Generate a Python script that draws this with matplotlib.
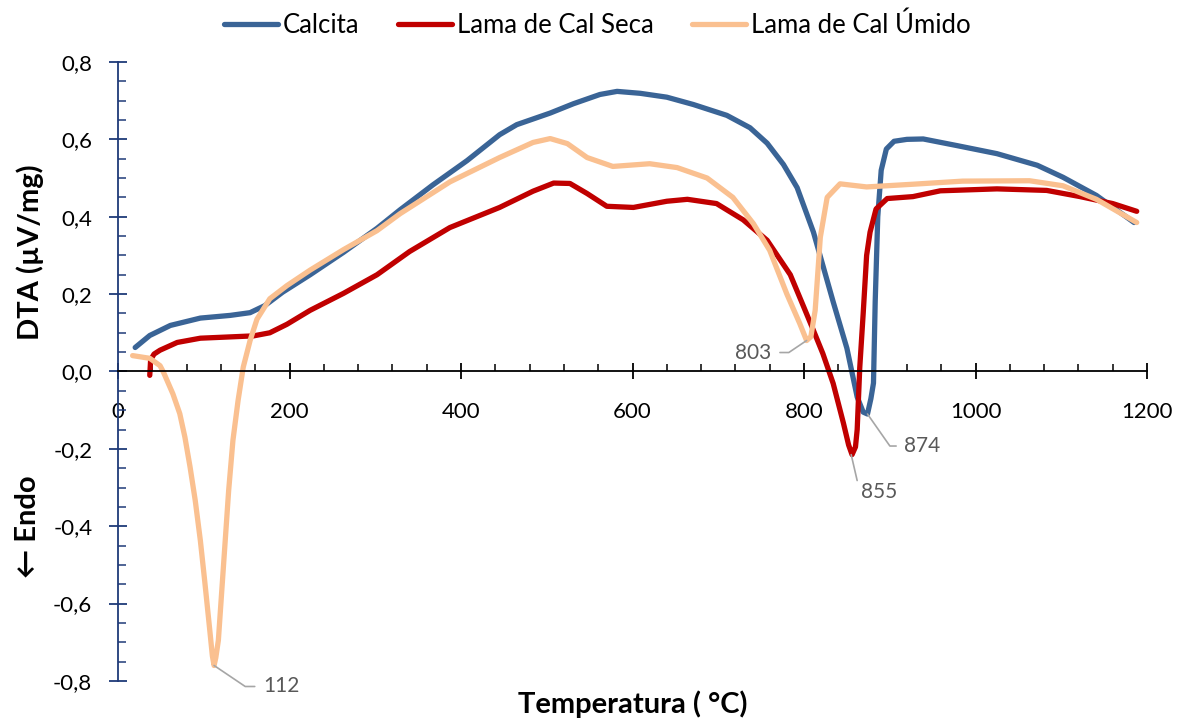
import matplotlib.pyplot as plt
from matplotlib.ticker import MultipleLocator, FuncFormatter

plt.rcParams["font.family"] = ["Lato", "DejaVu Sans"]

# Calcita
calc_t = [20, 37, 61, 96, 131, 154, 171, 192, 224, 263, 302, 329, 367, 407, 445,
          465, 504, 531, 562, 582, 609, 640, 671, 710, 737, 757, 776, 792, 811,
          834, 850, 862, 869, 874, 878, 881, 883, 886, 890, 896, 905, 920, 939,
          978, 1025, 1072, 1102, 1141, 1185]
calc_v = [0.062, 0.093, 0.119, 0.138, 0.145, 0.152, 0.170, 0.205, 0.250, 0.308,
          0.370, 0.418, 0.482, 0.545, 0.612, 0.638, 0.668, 0.692, 0.716, 0.724,
          0.719, 0.709, 0.690, 0.662, 0.630, 0.590, 0.535, 0.475, 0.360, 0.180,
          0.060, -0.066, -0.105, -0.110, -0.070, -0.030, 0.180, 0.400, 0.520,
          0.575, 0.595, 0.600, 0.601, 0.584, 0.563, 0.533, 0.502, 0.455, 0.385]

# Lama de Cal Seca
seca_t = [37, 38, 42, 49, 69, 96, 127, 158, 177, 197, 224, 263, 302, 340, 387,
          445, 484, 508, 527, 547, 570, 601, 640, 664, 698, 729, 757, 784, 800,
          811, 822, 834, 846, 852, 856, 860, 862, 865, 869, 873, 877, 884, 897,
          927, 959, 1025, 1083, 1122, 1160, 1188]
seca_v = [-0.010, 0.030, 0.045, 0.055, 0.075, 0.086, 0.089, 0.092, 0.100, 0.122,
          0.158, 0.202, 0.250, 0.310, 0.372, 0.424, 0.466, 0.487, 0.486, 0.460,
          0.427, 0.424, 0.440, 0.445, 0.434, 0.392, 0.339, 0.250, 0.165, 0.106,
          0.046, -0.031, -0.134, -0.190, -0.215, -0.195, -0.150, 0.010, 0.150,
          0.300, 0.360, 0.420, 0.447, 0.452, 0.467, 0.472, 0.468, 0.452, 0.434,
          0.414]

# Lama de Cal Úmido
umido_t = [17, 37, 49, 53, 64, 72, 78, 84, 90, 96, 101, 107, 110, 112, 114, 117,
           121, 125, 129, 134, 140, 146, 154, 162, 177, 197, 224, 263, 302, 329,
           387, 445, 484, 504, 524, 547, 577, 620, 652, 687, 717, 741, 760, 780,
           795, 803, 808, 813, 819, 827, 842, 873, 927, 985, 1063, 1102, 1141,
           1188]
umido_v = [0.041, 0.034, 0.015, -0.002, -0.058, -0.109, -0.170, -0.247, -0.333,
           -0.437, -0.540, -0.669, -0.735, -0.760, -0.740, -0.695, -0.566, -0.437,
           -0.308, -0.178, -0.075, 0.011, 0.080, 0.135, 0.188, 0.222, 0.262, 0.315,
           0.364, 0.408, 0.490, 0.553, 0.592, 0.602, 0.589, 0.553, 0.530, 0.537,
           0.527, 0.500, 0.450, 0.382, 0.313, 0.200, 0.124, 0.080, 0.090, 0.158,
           0.347, 0.450, 0.485, 0.477, 0.484, 0.492, 0.493, 0.480, 0.445, 0.385]

# peak labels: (temperature, value, label offset in pixels, connector angle)
peaks = [(112, -0.760, (49, -21), -34),
         (803, 0.080, (-35, -12), 34),
         (874, -0.110, (37, -32), -55),
         (855, -0.215, (10, -37), -77)]

fig = plt.figure(figsize=(11.78, 7.19), dpi=100)
ax = fig.add_axes([0.1002, 0.0529, 0.8735, 0.8609])

lw = 3.8
ax.plot(calc_t, calc_v, color="#3A6496", lw=lw, label="Calcita",
        solid_capstyle="round", solid_joinstyle="round")
ax.plot(seca_t, seca_v, color="#C00000", lw=lw, label="Lama de Cal Seca",
        solid_capstyle="round", solid_joinstyle="round")
ax.plot(umido_t, umido_v, color="#FAC090", lw=lw, label="Lama de Cal Úmido",
        solid_capstyle="round", solid_joinstyle="round")

for t, v, off, ang in peaks:
    ax.annotate(str(t), xy=(t, v), xytext=off, textcoords="offset pixels",
                ha="left" if off[0] > 0 else "right", va="center",
                fontsize=15, color="#595959",
                arrowprops=dict(arrowstyle="-", color="#A6A6A6", lw=1.2,
                                shrinkA=4, shrinkB=0,
                                connectionstyle=f"angle,angleA=0,angleB={ang},rad=0"))

ax.set_xlim(0, 1200)
ax.set_ylim(-0.8, 0.8)

for s in ["top", "right"]:
    ax.spines[s].set_visible(False)
ax.spines["bottom"].set_position(("data", 0))
ax.spines["left"].set_position(("data", 0))
ax.spines["bottom"].set_color("black")
ax.spines["left"].set_color("#1F3A78")
ax.spines["bottom"].set_linewidth(1.3)
ax.spines["left"].set_linewidth(1.3)

ax.xaxis.set_major_locator(MultipleLocator(200))
ax.xaxis.set_minor_locator(MultipleLocator(40))
ax.yaxis.set_major_locator(MultipleLocator(0.2))
ax.yaxis.set_minor_locator(MultipleLocator(0.05))
ax.yaxis.set_major_formatter(FuncFormatter(lambda v, _: f"{v:.1f}".replace(".", ",")))

ax.tick_params(axis="x", which="major", direction="inout", length=12, width=1.3,
               color="black", pad=16, labelsize=16)
ax.tick_params(axis="x", which="minor", direction="in", length=5, width=1.1, color="black")
ax.tick_params(axis="y", which="major", direction="inout", length=13, width=1.3,
               color="#1F3A78", pad=12, labelsize=16)
ax.tick_params(axis="y", which="minor", direction="in", length=6, width=1.1, color="#1F3A78")

fig.text(0.026, 0.6495, "DTA (µV/mg)", rotation=90, ha="center", va="center",
         fontsize=21, fontweight="bold")
fig.text(0.024, 0.267, "← Endo", rotation=90, ha="center", va="center",
         fontsize=21, fontweight="bold")
fig.text(0.537, 0.021, "Temperatura ( °C)", ha="center", va="center",
         fontsize=21, fontweight="bold")

fig.legend(loc="center", bbox_to_anchor=(0.507, 0.965), ncol=3, frameon=False,
           fontsize=18.5, handlelength=2.1, handletextpad=0.2, columnspacing=1.5)

fig.savefig("out.png", dpi=100)
